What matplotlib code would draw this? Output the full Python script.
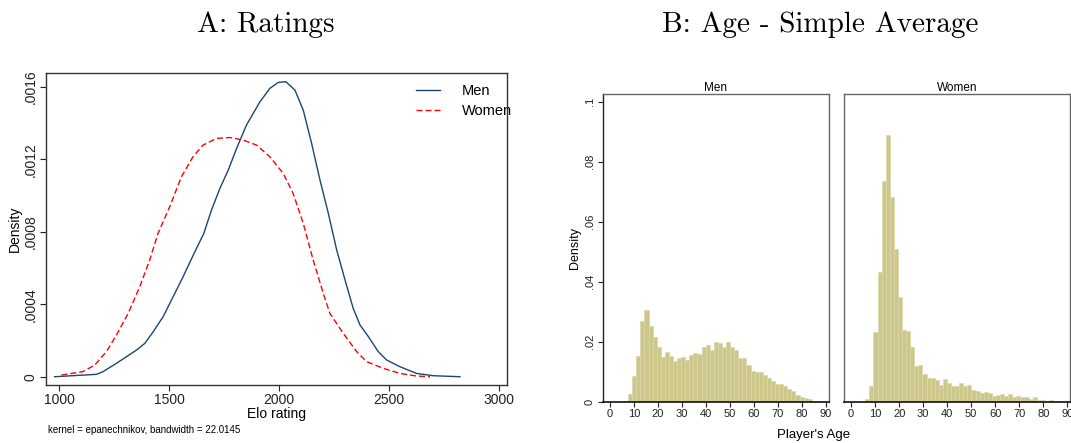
import matplotlib.pyplot as plt
import matplotlib as mpl
import numpy as np

mpl.use('Agg')
plt.rcParams['font.family'] = ['Liberation Sans', 'DejaVu Sans']

# Panel A: kernel density of Elo ratings
men_elo = [980, 1170, 1200, 1261, 1352, 1390, 1428, 1473, 1511, 1564, 1610, 1658, 1693, 1731,
           1769, 1807, 1852, 1913, 1958, 1996, 2031, 2072, 2110, 2148, 2186, 2224, 2262, 2300,
           2337, 2368, 2406, 2451, 2489, 2550, 2625, 2701, 2822]
men_dens = [0, 0.000013, 0.000028, 0.000074, 0.000147, 0.000184, 0.000248, 0.000331, 0.000423,
            0.000552, 0.000671, 0.000791, 0.000920, 0.001039, 0.001140, 0.001260, 0.001389,
            0.001517, 0.001591, 0.001624, 0.001628, 0.001582, 0.001471, 0.001287, 0.001085,
            0.000901, 0.000699, 0.000533, 0.000377, 0.000285, 0.000221, 0.000138, 0.000092,
            0.000055, 0.000018, 0.0000055, 0]
women_elo = [1011, 1109, 1162, 1215, 1261, 1314, 1367, 1412, 1450, 1503, 1556, 1609, 1654, 1716,
             1776, 1837, 1898, 1958, 2019, 2064, 2110, 2155, 2201, 2231, 2292, 2353, 2398, 2474,
             2550, 2625, 2686]
women_dens = [0.0000092, 0.000028, 0.000064, 0.000138, 0.000230, 0.000349, 0.000497, 0.000644,
              0.000791, 0.000938, 0.001103, 0.001214, 0.001278, 0.001315, 0.001320, 0.001306,
              0.001278, 0.001214, 0.001122, 0.001011, 0.000846, 0.000644, 0.000460, 0.000349,
              0.000239, 0.000138, 0.000083, 0.000046, 0.000018, 0.0000037, 0]
elo_ticks = [1000, 1500, 2000, 2500, 3000]
dens_ticks = [0, 0.0004, 0.0008, 0.0012, 0.0016]
dens_labels = ['0', '.0004', '.0008', '.0012', '.0016']

# Panel B: age histograms, bins of 1.7 years starting at 5.9
age_start = 5.9
age_width = 1.7
men_age = [0.0002, 0.0026, 0.0086, 0.0152, 0.0268, 0.0306, 0.0252, 0.0216, 0.0181, 0.0149,
           0.0166, 0.0151, 0.0136, 0.0146, 0.0149, 0.0139, 0.0156, 0.0162, 0.0159, 0.0181,
           0.0189, 0.0172, 0.0199, 0.0197, 0.0181, 0.0199, 0.0181, 0.0174, 0.0146, 0.0146,
           0.0123, 0.0102, 0.0099, 0.0099, 0.0089, 0.0078, 0.0069, 0.0059, 0.0059, 0.0052,
           0.0043, 0.0036, 0.0024, 0.0016, 0.0014, 0.0008, 0.0004, 0.0003, 0.0002, 0.0001]
women_age = [0.0008, 0.0054, 0.0232, 0.0431, 0.0736, 0.0889, 0.0684, 0.0508, 0.0348, 0.0239,
             0.0236, 0.0181, 0.0119, 0.0122, 0.0094, 0.0079, 0.0079, 0.0074, 0.0056, 0.0076,
             0.0062, 0.0052, 0.0052, 0.0062, 0.0052, 0.0056, 0.0039, 0.0036, 0.0028, 0.0032,
             0.0028, 0.0020, 0.0023, 0.0026, 0.0019, 0.0026, 0.0016, 0.0020, 0.0016, 0.0016,
             0.0009, 0.0016, 0.0006, 0.0006, 0.0003, 0.0006, 0.0002, 0.0002, 0.0002, 0.0001]
age_ticks = [0, 10, 20, 30, 40, 50, 60, 70, 80, 90]
age_dens_ticks = [0, 0.02, 0.04, 0.06, 0.08, 0.1]
age_dens_labels = ['0', '.02', '.04', '.06', '.08', '.1']

fig = plt.figure(figsize=(10.71, 4.43), dpi=100)

# ---- Panel A
ax = fig.add_axes([0.0430, 0.1309, 0.4304, 0.7043])
ax.plot(men_elo, men_dens, color='#1a476f', linewidth=1.0, label='Men')
ax.plot(women_elo, women_dens, color='#ff0000', linewidth=1.0, dashes=(4.3, 2.2), label='Women')
ax.set_xlim(941, 3036)
ax.set_ylim(-0.0000458, 0.001676)
ax.set_xticks(elo_ticks)
ax.set_yticks(dens_ticks)
ax.set_yticklabels(dens_labels, rotation=90, va='center')
ax.tick_params(labelsize=10, length=4, width=0.8, colors='#222222', pad=2)
ax.set_xlabel('Elo rating', fontsize=10, labelpad=0)
ax.set_ylabel('Density', fontsize=10, labelpad=1)
for s in ax.spines.values():
    s.set_color('#333333')
    s.set_linewidth(1.0)
ax.legend(loc='upper right', frameon=False, fontsize=10.5, handlelength=1.7,
          handletextpad=1.5, bbox_to_anchor=(1.04, 1.006), labelspacing=0.4)
fig.text(0.045, 0.022, 'kernel = epanechnikov, bandwidth = 22.0145', fontsize=7)
fig.text(0.2484, 0.928, 'A: Ratings', fontsize=21, family='cmr10', ha='center', va='baseline')

# ---- Panel B
edges = age_start + age_width * np.arange(len(men_age))
bar_face = '#cec78c'
bar_edge = '#ddd8a8'
for left, data, title in [(0.5627, men_age, 'Men'), (0.7880, women_age, 'Women')]:
    bx = fig.add_axes([left, 0.0932, 0.2113, 0.6939])
    bx.bar(edges, data, width=age_width, align='edge', color=bar_face,
           edgecolor=bar_edge, linewidth=0.5)
    bx.set_xlim(-3.0, 91.25)
    bx.set_ylim(0, 0.1025)
    bx.set_xticks(age_ticks)
    bx.set_yticks(age_dens_ticks)
    bx.tick_params(labelsize=8, length=3.5, width=0.8, colors='#222222', pad=2)
    bx.set_title(title, fontsize=8.5, pad=2)
    for s in bx.spines.values():
        s.set_color('#666666')
        s.set_linewidth(1.0)
    bx.spines['bottom'].set_color('#111111')
    bx.spines['bottom'].set_linewidth(1.2)
    if title == 'Men':
        bx.set_yticklabels(age_dens_labels, rotation=90, va='center')
        bx.set_ylabel('Density', fontsize=9, labelpad=3)
        bx.spines['left'].set_color('#222222')
    else:
        bx.tick_params(axis='y', left=False, labelleft=False)

fig.text(0.7593, 0.012, "Player's Age", fontsize=9.5, ha='center')
fig.text(0.7656, 0.928, 'B: Age - Simple Average', fontsize=21, family='cmr10', ha='center',
         va='baseline')

fig.savefig('out.png', dpi=100)
